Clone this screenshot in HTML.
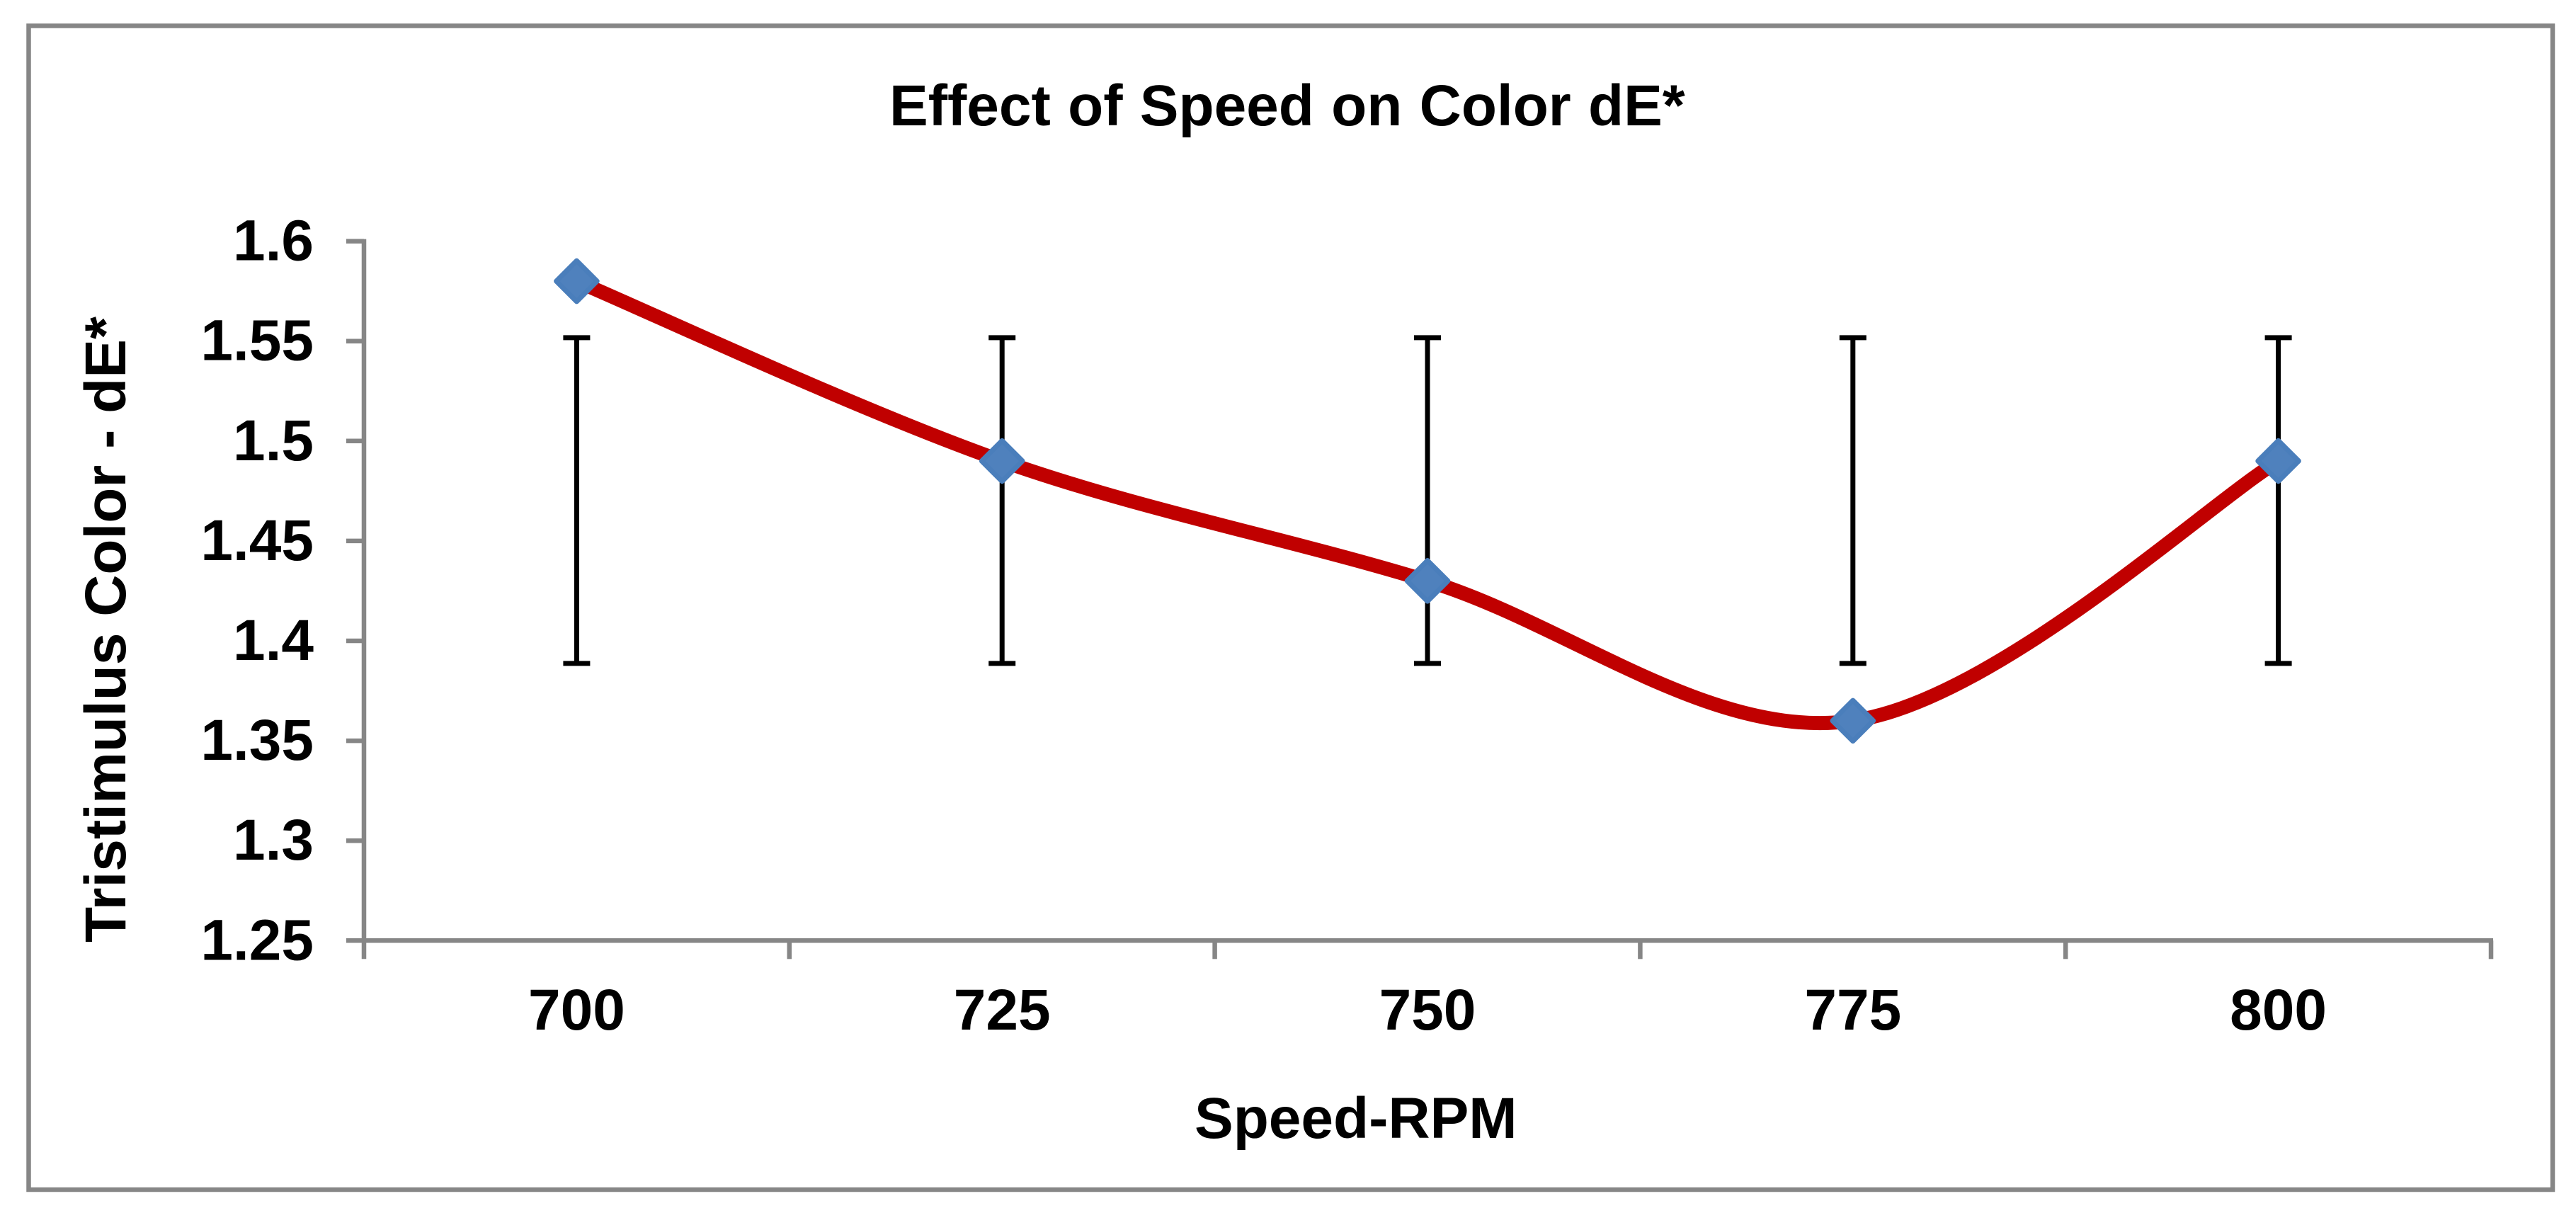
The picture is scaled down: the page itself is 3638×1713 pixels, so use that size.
<!DOCTYPE html>
<html lang="en">
<head>
<meta charset="utf-8">
<title>Effect of Speed on Color dE*</title>
<style>
html,body{margin:0;padding:0;background:#fff;width:3638px;height:1713px;overflow:hidden}
svg{display:block}
text{font-family:"Liberation Sans",Arial,sans-serif;font-weight:bold;font-size:82px;fill:#000}
</style>
</head>
<body>
<svg id="chart" xmlns="http://www.w3.org/2000/svg" width="3638" height="1713" viewBox="0 0 3638 1713">
<rect x="0" y="0" width="3638" height="1713" fill="#fff"/>
<rect x="40.5" y="36.5" width="3564.5" height="1643.5" fill="none" stroke="#868686" stroke-width="6.5"/>
<text x="1256" y="177" word-spacing="1.5">Effect of Speed on Color dE*</text>
<text x="1687" y="1607">Speed-RPM</text>
<text transform="translate(177,1331) rotate(-90)" x="0" y="0">Tristimulus Color - dE*</text>
<g id="axes"></g>
<g id="error-bars"></g>
<g id="series"></g>
</svg>
<script>
const categories = ['700', '725', '750', '775', '800'];
const seriesValues = [1.58, 1.49, 1.43, 1.36, 1.49];
const errorUpper = [1.5517, 1.5517, 1.5517, 1.5517, 1.5517];
const errorLower = [1.3887, 1.3887, 1.3887, 1.3887, 1.3887];
const yTickValues = [1.25, 1.3, 1.35, 1.4, 1.45, 1.5, 1.55, 1.6];
const yTickLabels = ['1.25', '1.3', '1.35', '1.4', '1.45', '1.5', '1.55', '1.6'];

const NS = 'http://www.w3.org/2000/svg';
const plotLeft = 514, plotRight = 3518, plotTop = 340.6, plotBottom = 1328.3;
const yMin = yTickValues[0], yMax = yTickValues[yTickValues.length - 1];
const band = (plotRight - plotLeft) / categories.length;
const xPos = i => plotLeft + band * (i + 0.5);
const yPos = v => plotBottom - (v - yMin) / (yMax - yMin) * (plotBottom - plotTop);

function make(tag, attrs, parent) {
  const el = document.createElementNS(NS, tag);
  for (const k in attrs) el.setAttribute(k, attrs[k]);
  parent.appendChild(el);
  return el;
}
const axes = document.getElementById('axes');
const errs = document.getElementById('error-bars');
const series = document.getElementById('series');
const axisStyle = {stroke: '#868686', 'stroke-width': 6.5, fill: 'none'};

const yAxis = make('line', Object.assign({x1: plotLeft, y1: plotTop - 3, x2: plotLeft, y2: plotBottom + 26}, axisStyle), axes);


const xAxis = make('line', Object.assign({x1: plotLeft, y1: plotBottom, x2: plotRight + 3, y2: plotBottom}, axisStyle), axes);



yTickValues.forEach((v, i) => {
  const t = make('line', Object.assign({x1: 489, y1: yPos(v), x2: plotLeft, y2: yPos(v)}, axisStyle), axes);
  
  
  const lab = make('text', {x: 443, y: yPos(v) + 27, 'text-anchor': 'end'}, axes);
  lab.textContent = yTickLabels[i];
  
  
});

for (let i = 1; i <= categories.length; i++) {
  const tx = plotLeft + band * i;
  const t = make('line', Object.assign({x1: tx, y1: plotBottom, x2: tx, y2: plotBottom + 26}, axisStyle), axes);
  
  
}

categories.forEach((c, i) => {
  const lab = make('text', {x: xPos(i), y: 1454, 'text-anchor': 'middle'}, axes);
  lab.textContent = c;
  
  
});

categories.forEach((c, i) => {
  const x = xPos(i), yU = yPos(errorUpper[i]), yL = yPos(errorLower[i]);
  const p = make('path', {
    d: 'M' + (x - 19) + ' ' + yU + 'H' + (x + 19) + 'M' + x + ' ' + yU + 'V' + yL + 'M' + (x - 19) + ' ' + yL + 'H' + (x + 19),
    stroke: '#000', 'stroke-width': 7, fill: 'none'
  }, errs);
  
  
});

const pts = seriesValues.map((v, i) => [xPos(i), yPos(v)]);
let d = 'M' + pts[0][0] + ' ' + pts[0][1];
for (let i = 0; i < pts.length - 1; i++) {
  const p0 = pts[Math.max(i - 1, 0)], p1 = pts[i], p2 = pts[i + 1], p3 = pts[Math.min(i + 2, pts.length - 1)];
  const c1x = p1[0] + (p2[0] - p0[0]) / 6, c1y = p1[1] + (p2[1] - p0[1]) / 6;
  const c2x = p2[0] - (p3[0] - p1[0]) / 6, c2y = p2[1] - (p3[1] - p1[1]) / 6;
  d += 'C' + c1x + ' ' + c1y + ' ' + c2x + ' ' + c2y + ' ' + p2[0] + ' ' + p2[1];
}
const line = make('path', {d: d, stroke: '#C00000', 'stroke-width': 20, fill: 'none', 'stroke-linejoin': 'round'}, series);



pts.forEach(p => {
  const r = 28.8;
  const m = make('path', {
    d: 'M' + p[0] + ' ' + (p[1] - r) + 'L' + (p[0] + r) + ' ' + p[1] + 'L' + p[0] + ' ' + (p[1] + r) + 'L' + (p[0] - r) + ' ' + p[1] + 'Z',
    fill: '#4F81BD', stroke: '#4A7EBB', 'stroke-width': 7, 'stroke-linejoin': 'round'
  }, series);
  
  
});
</script>
</body>
</html>
